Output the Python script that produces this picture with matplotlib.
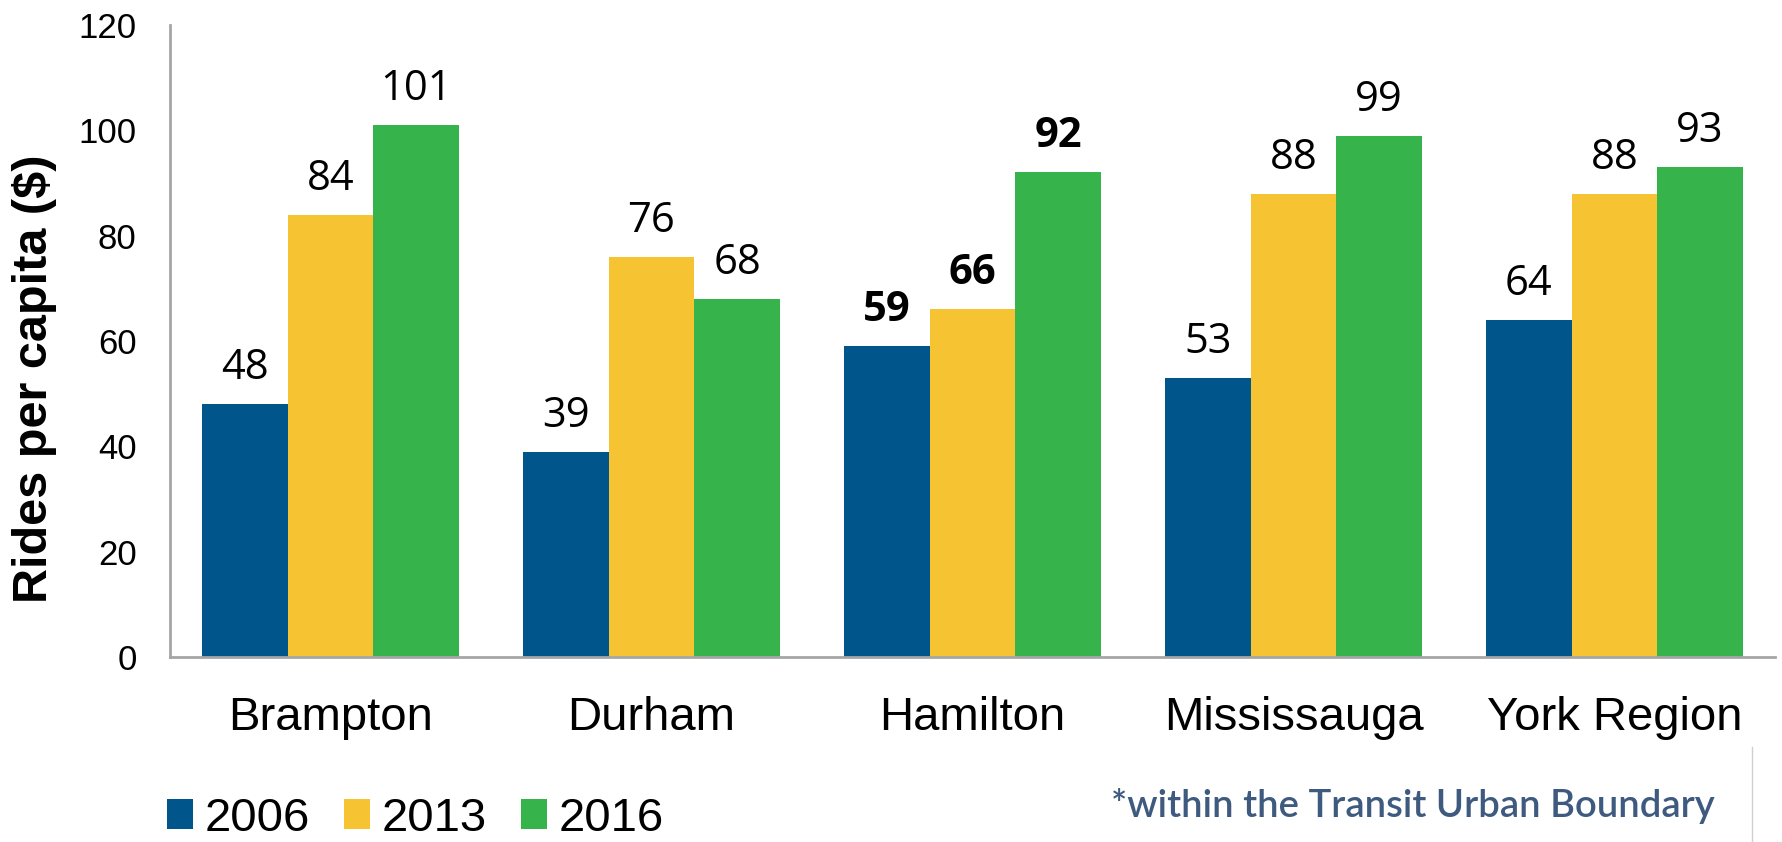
import numpy as np
import matplotlib.pyplot as plt
from matplotlib.lines import Line2D

# data
regions = ["Brampton", "Durham", "Hamilton", "Mississauga", "York Region"]
years = ["2006", "2013", "2016"]
rides_2006 = [48, 39, 59, 53, 64]
rides_2013 = [84, 76, 66, 88, 88]
rides_2016 = [101, 68, 92, 99, 93]
bold_region = "Hamilton"
colors = ["#00568B", "#F6C332", "#37B34B"]

plt.rcParams['font.family'] = ['Liberation Sans', 'DejaVu Sans']

fig = plt.figure(figsize=(17.83, 8.42), dpi=100)
ax = fig.add_axes([170 / 1783, 1 - 657 / 842, 1605 / 1783, 632 / 842])

x = np.arange(len(regions))
w = 0.8 / 3
series = [rides_2006, rides_2013, rides_2016]
for i, vals in enumerate(series):
    bars = ax.bar(x + (i - 1) * w, vals, w, color=colors[i], label=years[i])
    for j, b in enumerate(bars):
        bold = regions[j] == bold_region
        ax.annotate(str(vals[j]), (b.get_x() + b.get_width() / 2, b.get_height()),
                    xytext=(0, 18), textcoords="offset points", ha="center", va="baseline",
                    fontsize=30, family=["Open Sans", "DejaVu Sans"],
                    fontweight="bold" if bold else "normal")

ax.set_xlim(-0.5, 4.5)
ax.set_ylim(0, 120)
ax.set_yticks(range(0, 121, 20))
ax.set_xticks(x)
ax.set_xticklabels(regions)
ax.tick_params(axis="y", length=0, pad=24, labelsize=25)
ax.tick_params(axis="x", length=0, pad=28, labelsize=34)
for s in ["top", "right"]:
    ax.spines[s].set_visible(False)
for s in ["left", "bottom"]:
    ax.spines[s].set_color("#A6A6A6")
    ax.spines[s].set_linewidth(2)

fig.text(35 / 1783, 1 - 379 / 842, "Rides per capita ($)", rotation=90,
         ha="center", va="center", fontsize=35, fontweight="bold")

leg = fig.legend(loc="center left", bbox_to_anchor=(167 / 1783, 1 - 819 / 842), ncol=3,
                 frameon=False, borderpad=0, borderaxespad=0,
                 handlelength=0.55, handleheight=0.6, handletextpad=0.25,
                 columnspacing=0.72, fontsize=34)

fig.text(1715 / 1783, 1 - 806 / 842, "*within the Transit Urban Boundary", ha="right",
         va="center", fontsize=27.5, color="#3E5A7F", family=["Lato", "DejaVu Sans"],
         fontweight="semibold")

fig.add_artist(Line2D([1752 / 1783, 1752 / 1783], [0, 1 - 747 / 842],
                      transform=fig.transFigure, color="#D0D0D0", lw=1))

fig.savefig("out.png", dpi=100)
